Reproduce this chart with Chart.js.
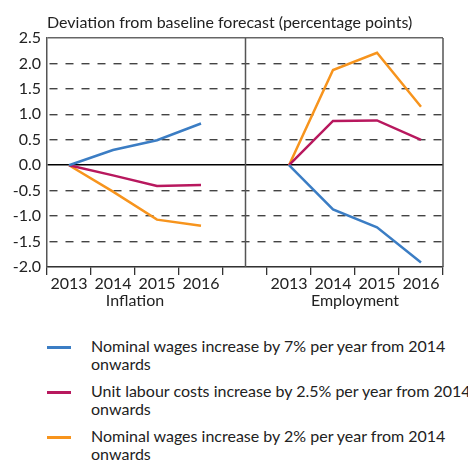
<!DOCTYPE html>
<html>
<head>
<meta charset="utf-8">
<script src="https://cdn.jsdelivr.net/npm/chart.js@4/dist/chart.umd.min.js"></script>
<style>
  html, body { margin: 0; padding: 0; background: #fff; width: 468px; height: 460px; overflow: hidden; }
  #wrap { position: absolute; left: 0; top: 0; width: 468px; height: 320px; }
  .leg { position: absolute; left: 0; width: 468px; font-family: Lato, sans-serif; font-size: 16px; line-height: 17.5px; color: #222; }
  .leg .sw { position: absolute; left: 47px; top: 9px; width: 24px; height: 3px; }
  .leg .tx { position: absolute; left: 91px; top: 0; white-space: nowrap; }
</style>
</head>
<body>
<div id="wrap"><canvas id="c"></canvas></div>
<div id="legend"></div>
<script>
// ---- data ----
const titleText = 'Deviation from baseline forecast (percentage points)';
const categories = ['2013', '2014', '2015', '2016', '', '2013', '2014', '2015', '2016'];
const groupLabels = ['Inflation', 'Employment'];
const seriesNames = [
  ['Nominal wages increase by 7% per year from 2014', 'onwards'],
  ['Unit labour costs increase by 2.5% per year from 2014', 'onwards'],
  ['Nominal wages increase by 2% per year from 2014', 'onwards']
];
const seriesColors = ['#3b7dc4', '#b8185e', '#f7941d'];
// inflation 2013-2016, gap, employment 2013-2016
const wages7 = [0, 0.30, 0.49, 0.82, null, 0, -0.87, -1.22, -1.91];
const ulc25  = [0, -0.20, -0.41, -0.39, null, 0, 0.87, 0.88, 0.50];
const wages2 = [0, -0.52, -1.07, -1.19, null, 0, 1.87, 2.21, 1.15];
const yTicks = [-2.0, -1.5, -1.0, -0.5, 0.0, 0.5, 1.0, 1.5, 2.0, 2.5];

const FONT = 'Lato, sans-serif';

const extras = {
  id: 'extras',
  beforeDatasetsDraw(chart) {
    const { ctx, chartArea: a, scales: { x } } = chart;
    ctx.save();
    ctx.strokeStyle = '#555';
    ctx.lineWidth = 1.5;
    const xd = Math.round(x.getPixelForValue(4)) + 0.5;
    ctx.beginPath();
    ctx.moveTo(xd, a.top); ctx.lineTo(xd, a.bottom);
    ctx.moveTo(a.right, a.top); ctx.lineTo(a.right, a.bottom);
    ctx.stroke();
    ctx.restore();
  },
  afterDraw(chart) {
    const { ctx, chartArea: a, scales: { x } } = chart;
    ctx.save();
    ctx.fillStyle = '#222';
    ctx.font = '16px ' + FONT;
    ctx.textBaseline = 'alphabetic';
    ctx.textAlign = 'left';
    ctx.fillText(titleText, a.left, 28);
    ctx.textAlign = 'center';
    const c1 = (x.getPixelForValue(1) + x.getPixelForValue(2)) / 2;
    const c2 = (x.getPixelForValue(6) + x.getPixelForValue(7)) / 2;
    ctx.fillText(groupLabels[0], c1, 306);
    ctx.fillText(groupLabels[1], c2, 306);
    ctx.restore();
  }
};

const datasets = [wages7, ulc25, wages2].map((d, i) => ({
  label: seriesNames[i].join(' '),
  data: d,
  borderColor: seriesColors[i],
  backgroundColor: seriesColors[i],
  borderWidth: 2.5,
  pointRadius: 0,
  tension: 0,
  spanGaps: false
}));

new Chart(document.getElementById('c'), {
  type: 'line',
  data: { labels: categories, datasets },
  plugins: [extras],
  options: {
    responsive: true,
    maintainAspectRatio: false,
    animation: false,
    events: [],
    layout: { padding: { top: 38, right: 25, left: 0, bottom: 0 } },
    plugins: { legend: { display: false }, tooltip: { enabled: false }, title: { display: false } },
    scales: {
      x: {
        type: 'category',
        offset: true,
        grid: { display: true, drawOnChartArea: false, drawTicks: true, tickLength: 8, color: '#333', lineWidth: 1.3, offset: true },
        border: { display: true, color: '#333', width: 1.3 },
        ticks: { color: '#222', font: { family: FONT, size: 16 }, padding: -1, maxRotation: 0, autoSkip: false },
        afterFit(s) { s.height = 53; }
      },
      y: {
        min: -2, max: 2.5,
        afterBuildTicks(s) { s.ticks = yTicks.map(v => ({ value: v })); },
        grid: {
          drawTicks: false,
          color: ctx => (ctx.tick && ctx.tick.value === 0) ? '#000' : (ctx.tick && (ctx.tick.value === 2.5 || ctx.tick.value === -2)) ? '#666' : '#444',
          lineWidth: ctx => (ctx.tick && ctx.tick.value === 0) ? 1.5 : 1.4
        },
        border: {
          display: true, color: '#555', width: 1.5,
          dash: ctx => (ctx.tick && (ctx.tick.value === 0 || ctx.tick.value === 2.5 || ctx.tick.value === -2)) ? [] : [8, 8],
          dashOffset: -2
        },
        ticks: { color: '#222', font: { family: FONT, size: 16 }, padding: 6, callback: v => Number(v).toFixed(1) },
        afterFit(s) { s.width = 47; }
      }
    }
  }
});

// HTML legend built from series arrays
const leg = document.getElementById('legend');
const tops = [337, 382, 427];
seriesNames.forEach((lines, i) => {
  const d = document.createElement('div');
  d.className = 'leg';
  d.style.top = tops[i] + 'px';
  const sw = document.createElement('div');
  sw.className = 'sw';
  sw.style.background = seriesColors[i];
  const tx = document.createElement('div');
  tx.className = 'tx';
  tx.innerHTML = lines.join('<br>');
  d.appendChild(sw); d.appendChild(tx);
  leg.appendChild(d);
});
</script>
</body>
</html>
